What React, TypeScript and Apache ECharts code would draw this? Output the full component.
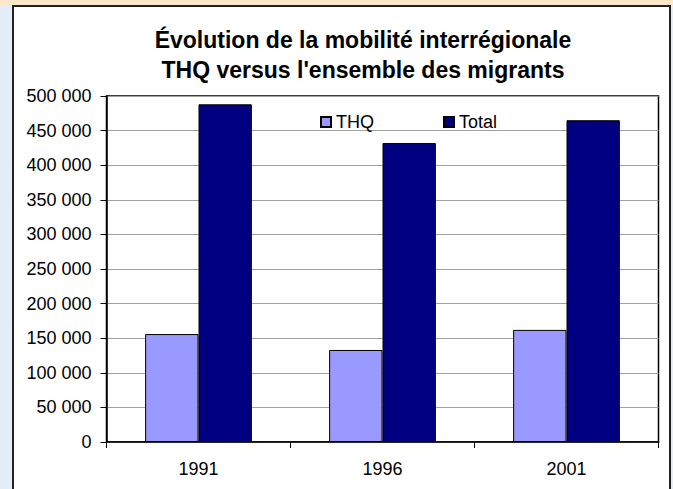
import React, { useEffect, useRef } from "react";
import * as echarts from "echarts";

const categories = ["1991", "1996", "2001"];
const thqValues = [156000, 133000, 162000];
const totalValues = [488000, 432000, 465000];
const seriesNames = ["THQ", "Total"];
const titleLines = ["Évolution de la mobilité interrégionale", "THQ versus l'ensemble des migrants"];

const fmt = (v: number) => {
  const s = String(Math.round(v));
  return s.replace(/\B(?=(\d{3})+(?!\d))/g, " ");
};

export default function App() {
  const ref = useRef<HTMLDivElement>(null);
  useEffect(() => {
    if (!ref.current) return;
    const chart = echarts.init(ref.current, null, { renderer: "svg" });
    const font = "Liberation Sans, Arial, sans-serif";
    chart.setOption({
      animation: false,
      backgroundColor: "#E4ECF5",
      graphic: [
        { type: "rect", z: -10, shape: { x: 0, y: 0, width: 673, height: 5 }, style: { fill: "#FDE7C8" } },
        {
          type: "rect",
          z: -9,
          shape: { x: 13, y: 6, width: 657, height: 490 },
          style: { fill: "#FFFFFF", stroke: "#222222", lineWidth: 2 },
        },
        {
          type: "text",
          z: 10,
          x: 363,
          y: 40,
          style: {
            text: titleLines[0],
            font: `bold 23px ${font}`,
            fill: "#000",
            align: "center",
            verticalAlign: "middle",
          },
        },
        {
          type: "text",
          z: 10,
          x: 363,
          y: 70,
          style: {
            text: titleLines[1],
            font: `bold 23px ${font}`,
            fill: "#000",
            align: "center",
            verticalAlign: "middle",
          },
        },
      ],
      legend: {
        left: 320,
        top: 113,
        padding: 0,
        itemWidth: 10,
        itemHeight: 10,
        itemGap: 69,
        icon: "rect",
        selectedMode: false,
        data: seriesNames,
        textStyle: { fontFamily: font, fontSize: 18, color: "#000" },
      },
      grid: {
        left: 106.5,
        right: 14.5,
        top: 96,
        bottom: 47,
        show: true,
        borderColor: "#000",
        borderWidth: 1.5,
        backgroundColor: "transparent",
      },
      xAxis: {
        type: "category",
        data: categories,
        axisLine: { lineStyle: { color: "#000", width: 1.5 } },
        axisTick: { show: true, length: 6, lineStyle: { color: "#000" }, alignWithLabel: false },
        axisLabel: { fontFamily: font, fontSize: 18, color: "#000", margin: 18 },
      },
      yAxis: {
        type: "value",
        min: 0,
        max: 500000,
        interval: 50000,
        axisLine: { show: true, lineStyle: { color: "#000", width: 1.5 } },
        axisTick: { show: true, length: 6, lineStyle: { color: "#000" } },
        axisLabel: { fontFamily: font, fontSize: 18, color: "#000", margin: 15, formatter: fmt },
        splitLine: { lineStyle: { color: "#A0A0A0", width: 1 } },
      },
      series: [
        {
          name: seriesNames[0],
          type: "bar",
          data: thqValues,
          barGap: "0%",
          barCategoryGap: "42%",
          itemStyle: { color: "#9999FF", borderColor: "#000", borderWidth: 1 },
        },
        {
          name: seriesNames[1],
          type: "bar",
          data: totalValues,
          itemStyle: { color: "#000080", borderColor: "#000", borderWidth: 1 },
        },
      ],
    });
    return () => chart.dispose();
  }, []);
  return (
    <div
      ref={ref}
      style={{ position: "fixed", left: 0, top: 0, width: 673, height: 489 }}
    />
  );
}
